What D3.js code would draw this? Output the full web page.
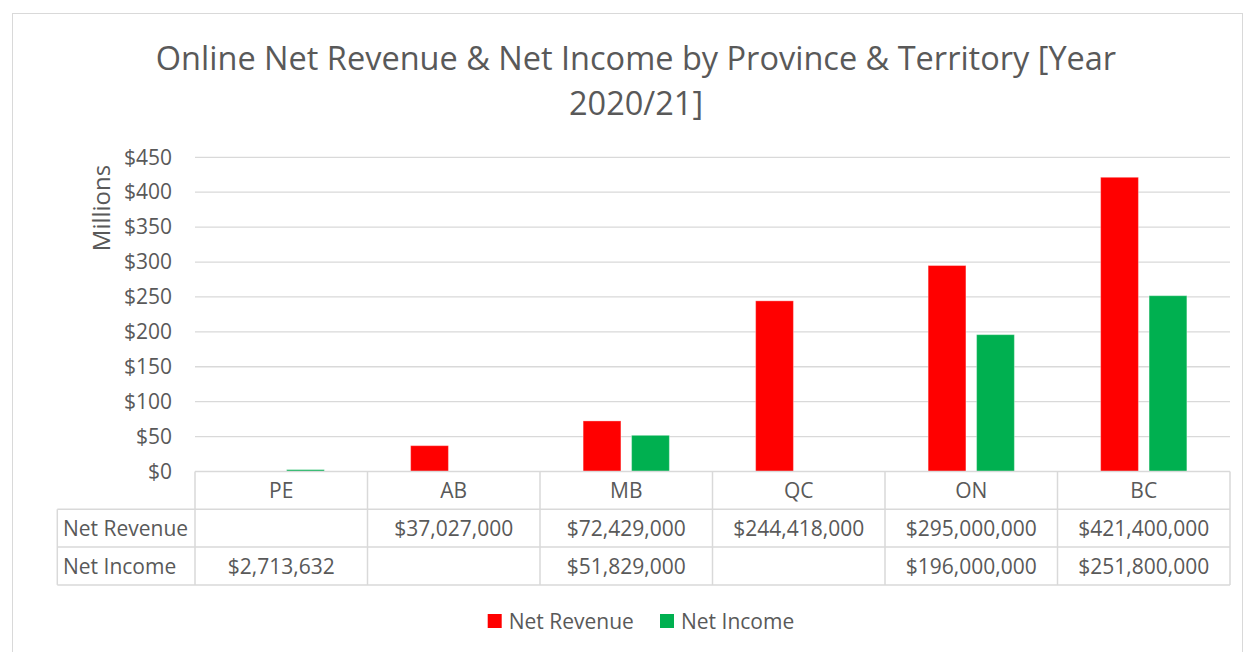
<!DOCTYPE html>
<html>
<head>
<meta charset="utf-8">
<title>Online Net Revenue & Net Income</title>
<script src="https://d3js.org/d3.v7.min.js"></script>
<style>
body { margin: 0; background: #fff; font-family: "Open Sans", sans-serif; }
text { fill: #595959; }
</style>
</head>
<body>
<script>
// data (millions of dollars, null = no value)
var provinces = ["PE", "AB", "MB", "QC", "ON", "BC"];
var seriesNames = ["Net Revenue", "Net Income"];
var netRevenue = [null, 37.027, 72.429, 244.418, 295.0, 421.4];
var netIncome = [2.713632, null, 51.829, null, 196.0, 251.8];
var yTicks = [0, 50, 100, 150, 200, 250, 300, 350, 400, 450];
var colors = ["#ff0000", "#00b050"];

var width = 1249, height = 652;
var plotLeft = 195, plotRight = 1230, plotTop = 157.3, plotBottom = 471.5;

var svg = d3.select("body").append("svg")
  .attr("width", width)
  .attr("height", height);

// chart frame
svg.append("rect")
  .attr("x", 12.5).attr("y", 13.5)
  .attr("width", 1230).attr("height", 660)
  .attr("fill", "none").attr("stroke", "#d9d9d9");

// title
var title = svg.append("text")
  .attr("text-anchor", "middle")
  .style("font-size", "32.5px");
title.append("tspan").attr("x", 636).attr("y", 70)
  .text("Online Net Revenue & Net Income by Province & Territory [Year");
title.append("tspan").attr("x", 636).attr("y", 115)
  .text("2020/21]");

var y = d3.scaleLinear().domain([0, 450]).range([plotBottom, plotTop]);
var x0 = d3.scaleBand().domain(provinces).range([plotLeft, plotRight])
  .paddingInner(0.5).paddingOuter(0.25);
var x1 = d3.scaleBand().domain(seriesNames).range([0, x0.bandwidth()])
  .paddingInner(0.22).paddingOuter(0);

// gridlines
svg.append("g").selectAll("line")
  .data(yTicks.filter(function(d) { return d > 0; }))
  .enter().append("line")
  .attr("x1", plotLeft).attr("x2", plotRight)
  .attr("y1", function(d) { return y(d); })
  .attr("y2", function(d) { return y(d); })
  .attr("stroke", "#d9d9d9").attr("stroke-width", 1.3);

// y axis labels
var yAxis = d3.axisLeft(y).tickValues(yTicks)
  .tickFormat(function(d) { return "$" + d; })
  .tickSize(0).tickPadding(23);
var ya = svg.append("g").attr("transform", "translate(" + plotLeft + ",0)").call(yAxis);
ya.select(".domain").remove();
ya.selectAll("text").style("font-size", "21px").style("font-family", "Open Sans").attr("fill", "#595959");

svg.append("text")
  .attr("transform", "translate(110,208) rotate(-90)")
  .attr("text-anchor", "middle")
  .style("font-size", "24px")
  .text("Millions");

// bars
var rows = provinces.map(function(p, i) {
  return { prov: p, vals: [netRevenue[i], netIncome[i]] };
});
var groups = svg.append("g").selectAll("g")
  .data(rows).enter().append("g")
  .attr("transform", function(d) { return "translate(" + x0(d.prov) + ",0)"; });
groups.selectAll("rect")
  .data(function(d) {
    return d.vals.map(function(v, k) { return { name: seriesNames[k], v: v, k: k }; })
      .filter(function(e) { return e.v !== null; });
  })
  .enter().append("rect")
  .attr("x", function(d) { return x1(d.name); })
  .attr("width", x1.bandwidth())
  .attr("y", function(d) { return y(d.v); })
  .attr("height", function(d) { return y(0) - y(d.v); })
  .attr("fill", function(d) { return colors[d.k]; })
  .attr("stroke", "#fff").attr("stroke-opacity", 0.35).attr("stroke-width", 1);

// data table
var rowH = 37.8;
var tableLeft = 57.3;
var t = svg.append("g");
var lineColor = "#d9d9d9";
function hline(x1p, x2p, yy) {
  t.append("line").attr("x1", x1p).attr("x2", x2p).attr("y1", yy).attr("y2", yy)
    .attr("stroke", lineColor).attr("stroke-width", 1.5);
}
function vline(xx, y1p, y2p) {
  t.append("line").attr("x1", xx).attr("x2", xx).attr("y1", y1p).attr("y2", y2p)
    .attr("stroke", lineColor).attr("stroke-width", 1.5);
}
hline(plotLeft, plotRight, plotBottom);
hline(tableLeft, plotRight, plotBottom + rowH);
hline(tableLeft, plotRight, plotBottom + 2 * rowH);
hline(tableLeft, plotRight, plotBottom + 3 * rowH);
vline(tableLeft, plotBottom + rowH, plotBottom + 3 * rowH);
provinces.forEach(function(p) { vline(x0(p) - x0.step() * 0.25, plotBottom, plotBottom + 3 * rowH); });
vline(plotRight, plotBottom, plotBottom + 3 * rowH);

var fmt = d3.format("$,.0f");
t.selectAll("text.cat").data(provinces).enter().append("text")
  .attr("class", "cat")
  .attr("x", function(d) { return x0(d) + x0.bandwidth() / 2; })
  .attr("y", plotBottom + rowH / 2 + 7.5)
  .attr("text-anchor", "middle").style("font-size", "21px")
  .text(function(d) { return d; });

[netRevenue, netIncome].forEach(function(arr, r) {
  var yy = plotBottom + (r + 1) * rowH + rowH / 2 + 7.5;
  t.append("text").attr("x", 63).attr("y", yy).style("font-size", "21px").text(seriesNames[r]);
  t.selectAll("text.v" + r).data(arr).enter().append("text")
    .attr("class", "v" + r)
    .attr("x", function(d, i) { return x0(provinces[i]) + x0.bandwidth() / 2; })
    .attr("y", yy)
    .attr("text-anchor", "middle").style("font-size", "21px")
    .text(function(d) { return d === null ? "" : fmt(Math.round(d * 1e6)); });
});

// legend
var legendX = [487.7, 660];
var lg = svg.append("g").selectAll("g").data(seriesNames).enter().append("g")
  .attr("transform", function(d, i) { return "translate(" + legendX[i] + ",614)"; });
lg.append("rect").attr("width", 14).attr("height", 14)
  .attr("fill", function(d, i) { return colors[i]; });
lg.append("text").attr("x", 21).attr("y", 14.5).style("font-size", "21px")
  .text(function(d) { return d; });
</script>
</body>
</html>
